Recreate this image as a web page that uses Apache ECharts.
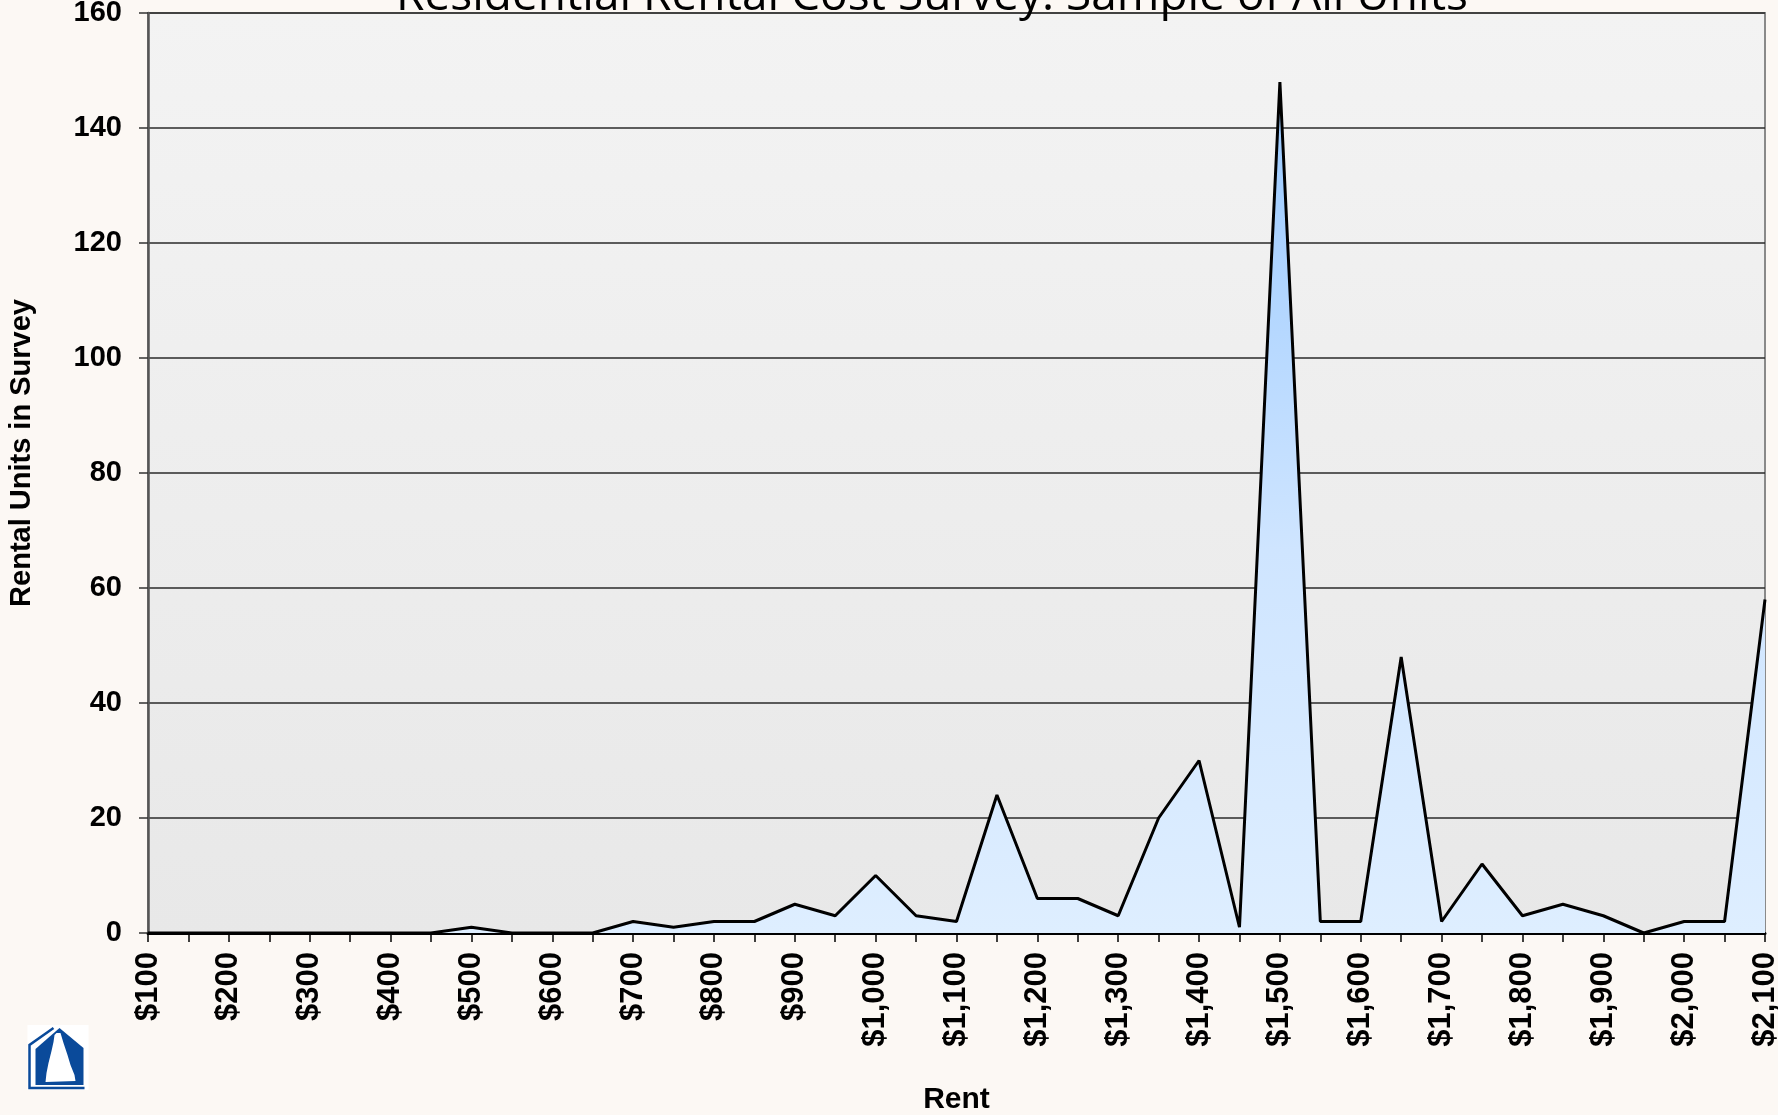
<!DOCTYPE html>
<html>
<head>
<meta charset="utf-8">
<title>Residential Rental Cost Survey</title>
<script src="https://cdn.jsdelivr.net/npm/echarts@6/dist/echarts.min.js"></script>
<style>
  html, body { margin: 0; padding: 0; background: #fcf8f4; }
  #chart { width: 1778px; height: 1115px; }
</style>
</head>
<body>
<div id="chart"></div>
<script>
// 租金档位 ($100 - $2,100, 每 $50 一档)
const rentLabels = [
  "$100", "$150", "$200", "$250", "$300", "$350", "$400", "$450", "$500", "$550",
  "$600", "$650", "$700", "$750", "$800", "$850", "$900", "$950", "$1,000", "$1,050",
  "$1,100", "$1,150", "$1,200", "$1,250", "$1,300", "$1,350", "$1,400", "$1,450", "$1,500", "$1,550",
  "$1,600", "$1,650", "$1,700", "$1,750", "$1,800", "$1,850", "$1,900", "$1,950", "$2,000", "$2,050",
  "$2,100"
];
// 调查中的出租单位数量
const unitCounts = [
  0, 0, 0, 0, 0, 0, 0, 0, 1, 0,
  0, 0, 2, 1, 2, 2, 5, 3, 10, 3,
  2, 24, 6, 6, 3, 20, 30, 1, 148, 2,
  2, 48, 2, 12, 3, 5, 3, 0, 2, 2,
  58
];
const yTicks = [0, 20, 40, 60, 80, 100, 120, 140, 160];

const chartTitle = "Residential Rental Cost Survey: Sample of All Units";
const axisFont = "Liberation Sans";

let eChart = echarts.init(document.getElementById("chart"));
let option = {
  backgroundColor: "#fcf8f4",
  animation: false,
  title: {
    text: chartTitle,
    left: 927,
    textAlign: "center",
    top: -31,
    textStyle: {
      fontFamily: "Open Sans",
      fontWeight: "normal",
      fontSize: 46,
      color: "#000"
    }
  },
  grid: {
    left: 148,
    right: 13,
    top: 13,
    bottom: 182,
    containLabel: false,
    outerBoundsMode: "none",
    show: true,
    borderColor: "#8a8a8a",
    borderWidth: 2,
    backgroundColor: new echarts.graphic.LinearGradient(0, 0, 0, 1, [
      { offset: 0, color: "#f3f3f3" },
      { offset: 1, color: "#e8e8e8" }
    ])
  },
  xAxis: {
    type: "category",
    data: rentLabels,
    boundaryGap: false,
    name: "Rent",
    nameLocation: "middle",
    nameGap: 152,
    nameTextStyle: {
      fontFamily: axisFont,
      fontWeight: "bold",
      fontSize: 30,
      color: "#000"
    },
    axisLine: { lineStyle: { color: "#000", width: 3 } },
    axisTick: { show: true, interval: 0, length: 9, lineStyle: { color: "#000", width: 1.5 } },
    axisLabel: {
      interval: 1,
      rotate: 90,
      margin: 19,
      fontFamily: axisFont,
      fontWeight: "bold",
      fontSize: 31,
      color: "#000"
    },
    splitLine: { show: false }
  },
  yAxis: {
    type: "value",
    min: 0,
    max: 160,
    interval: 20,
    name: "Rental Units in Survey",
    nameLocation: "middle",
    nameGap: 112,
    nameTextStyle: {
      fontFamily: axisFont,
      fontWeight: "bold",
      fontSize: 29,
      color: "#000",
      padding: [0, 0, 0, 40]
    },
    axisLine: { show: true, lineStyle: { color: "#555", width: 2.5 } },
    axisTick: { show: true, length: 9, lineStyle: { color: "#333", width: 1.5 } },
    axisLabel: {
      margin: 26,
      fontFamily: axisFont,
      fontWeight: "bold",
      fontSize: 29,
      color: "#000",
      formatter: function (v) {
        return yTicks.indexOf(v) >= 0 ? String(v) : "";
      }
    },
    splitLine: { show: true, lineStyle: { color: "#2a2a2a", width: 1.5 } }
  },
  series: [
    {
      name: "Rental Units",
      type: "line",
      data: unitCounts,
      symbol: "none",
      lineStyle: { color: "#000", width: 3 },
      areaStyle: {
        origin: "start",
        opacity: 1,
        color: new echarts.graphic.LinearGradient(0, 0, 0, 1, [
          { offset: 0, color: "#99c9ff" },
          { offset: 0.55, color: "#cfe5ff" },
          { offset: 1, color: "#deeeff" }
        ])
      },
      z: 3
    }
  ],
  graphic: [
    {
      type: "group",
      left: 27,
      top: 1025,
      children: [
        // 白色底
        {
          type: "rect",
          shape: { x: 0, y: 0, width: 61, height: 65 },
          style: { fill: "#ffffff" }
        },
        // 外侧细线
        {
          type: "polyline",
          shape: { points: [[26, 3], [2, 20], [2, 63], [57, 63]] },
          style: { stroke: "#0a4a9a", lineWidth: 2.5, fill: null }
        },
        // 主体房屋
        {
          type: "polygon",
          shape: { points: [[8, 60], [8, 24], [32, 3], [56, 23], [56, 60]] },
          style: { fill: "#0a4a9a" }
        },
        // 新罕布什尔州轮廓
        {
          type: "polygon",
          shape: { points: [[27, 10], [29, 8], [33, 8], [36, 18], [40, 30], [43, 40], [47, 50], [48, 56], [18, 57], [19, 48], [21, 38], [24, 26], [26, 17]] },
          style: { fill: "#ffffff" }
        }
      ]
    }
  ]
};
eChart.setOption(option);
</script>
</body>
</html>
